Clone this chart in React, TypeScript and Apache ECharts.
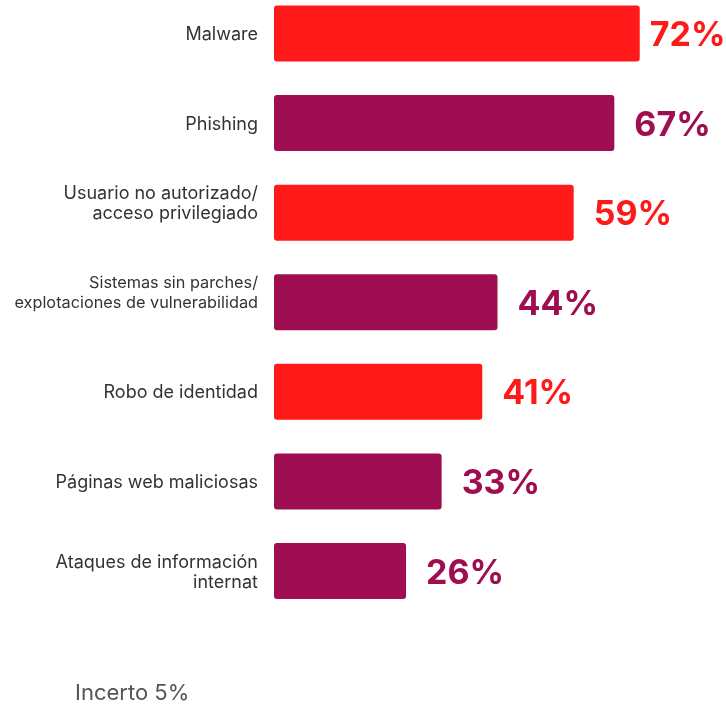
import React, { useEffect, useRef } from "react";
import * as echarts from "echarts";

const categories = [
  "Malware",
  "Phishing",
  "Usuario no autorizado/\nacceso privilegiado",
  "Sistemas sin parches/\nexplotaciones de vulnerabilidad",
  "Robo de identidad",
  "Páginas web maliciosas",
  "Ataques de información\ninternat",
];
const values = [72, 67, 59, 44, 41, 33, 26];
const barColors = ["#FF1919", "#9E0E50", "#FF1919", "#9E0E50", "#FF1919", "#9E0E50", "#9E0E50"];
const raisedLabels = [false, false, true, true, false, false, false];
const smallLabels = [false, false, false, true, false, false, false];
const footnote = "Incerto 5%";

export default function App() {
  const ref = useRef<HTMLDivElement>(null);
  useEffect(() => {
    if (!ref.current) return;
    const chart = echarts.init(ref.current, null, { renderer: "svg" });
    chart.setOption({
      animation: false,
      grid: { left: 274, right: 5, top: 33.5, bottom: 134, containLabel: false },
      xAxis: {
        type: "value",
        min: 0,
        max: 88,
        show: false,
      },
      yAxis: {
        type: "category",
        inverse: true,
        boundaryGap: false,
        data: categories,
        axisLine: { show: false },
        axisTick: { show: false },
        splitLine: { show: false },
        axisLabel: {
          margin: 16,
          align: "right",
          formatter: (val: string, idx: number) => {
            const key = smallLabels[idx] ? "s" : "a";
            const lines = val.split("\n");
            if (raisedLabels[idx]) lines.push(" ");
            return lines.map((l) => `{${key}|${l}}`).join("\n");
          },
          rich: {
            a: { fontSize: 18, lineHeight: 20, color: "#333333", fontFamily: "Inter", align: "right" },
            s: { fontSize: 16.3, lineHeight: 20, color: "#333333", fontFamily: "Inter", align: "right" },
          },
        },
      },
      series: [
        {
          type: "bar",
          barWidth: 56,
          data: values.map((v, i) => ({
            value: v,
            itemStyle: { color: barColors[i], borderRadius: 3 },
            label: {
              show: true,
              position: "right",
              distance: i === 0 ? 10 : 20,
              formatter: "{c}%",
              color: barColors[i],
              fontSize: 34,
              fontWeight: 700,
              fontFamily: "Inter",
            },
          })),
        },
      ],
      graphic: [
        {
          type: "text",
          left: 75,
          top: 681,
          style: {
            text: footnote,
            fontSize: 22,
            fontFamily: "Inter",
            fill: "#555555",
          },
        },
      ],
    });
    return () => chart.dispose();
  }, []);
  return (
    <div
      ref={ref}
      style={{ position: "fixed", left: 0, top: 0, width: 726, height: 705 }}
    />
  );
}
